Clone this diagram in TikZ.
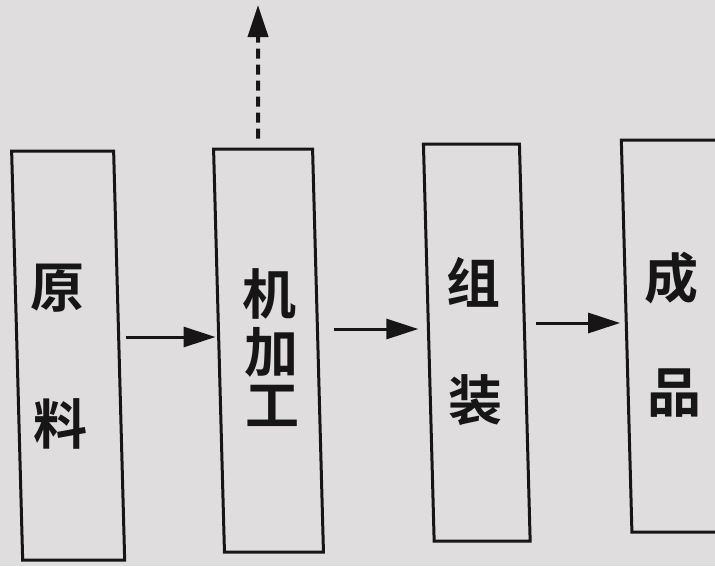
\documentclass[tikz,border=0pt]{standalone}
\usepackage{fontspec}
\newfontfamily\cjk{Noto Sans CJK SC}[BoldFont={Noto Sans CJK SC Bold}]
\usetikzlibrary{arrows.meta}
\definecolor{paper}{RGB}{223,221,222}
\definecolor{ink}{RGB}{22,22,22}
\begin{document}
\begin{tikzpicture}[x=1pt,y=1pt,
  stage/.style={draw=ink, line width=3pt, rectangle, inner sep=0pt, transform shape},
  glyph/.style={text=ink, font=\cjk\bfseries\fontsize{54}{54}\selectfont, inner sep=0pt},
  flowarrow/.style={draw=ink, line width=3pt, -{Triangle[length=32pt,width=20pt]}},
  exitarrow/.style={draw=ink, line width=4pt, dash pattern=on 10pt off 6pt, -{Triangle[length=32pt,width=20pt]}}]
\useasboundingbox (0,0) rectangle (715,-566);
\fill[paper] (0,0) rectangle (715,-566);
\clip (0,0) rectangle (715,-566);
\begin{scope}[shift={(0,-350)}, xslant=-0.027]
  \node[stage, minimum width=102pt, minimum height=409pt] (b1) at (68,-5.5) {};
  \node[stage, minimum width=99pt, minimum height=403pt] (b2) at (268.5,-0.5) {};
  \node[stage, minimum width=96pt, minimum height=397pt] (b3) at (477,7.5) {};
  \node[stage, minimum width=100pt, minimum height=392pt] (b4) at (677,14) {};
\end{scope}
% labels
\node[glyph] (t1) at (57,-288) {原};
\node[glyph] (t2) at (61,-424) {料};
\node[glyph] (t3) at (269,-294) {机};
\node[glyph] (t4) at (271,-352) {加};
\node[glyph] (t5) at (272,-406) {工};
\node[glyph] (t6) at (473,-282) {组};
\node[glyph] (t7) at (475,-400) {装};
\node[glyph] (t8) at (671,-278) {成};
\node[glyph] (t9) at (674,-393) {品};
% connectors
\draw[flowarrow] ([xshift=5pt,yshift=18.5pt]b1.east) -- ([xshift=-2pt,yshift=13.5pt]b2.west);
\draw[flowarrow] ([xshift=14pt,yshift=21.5pt]b2.east) -- ([xshift=-9pt,yshift=13.5pt]b3.west);
\draw[flowarrow] ([xshift=10pt,yshift=19.5pt]b3.east) -- ([xshift=-5pt,yshift=13pt]b4.west);
\coordinate (top) at (258,-5);
\draw[exitarrow] ([xshift=-5pt,yshift=9pt]b2.north) -- (top);
\end{tikzpicture}
\end{document}
